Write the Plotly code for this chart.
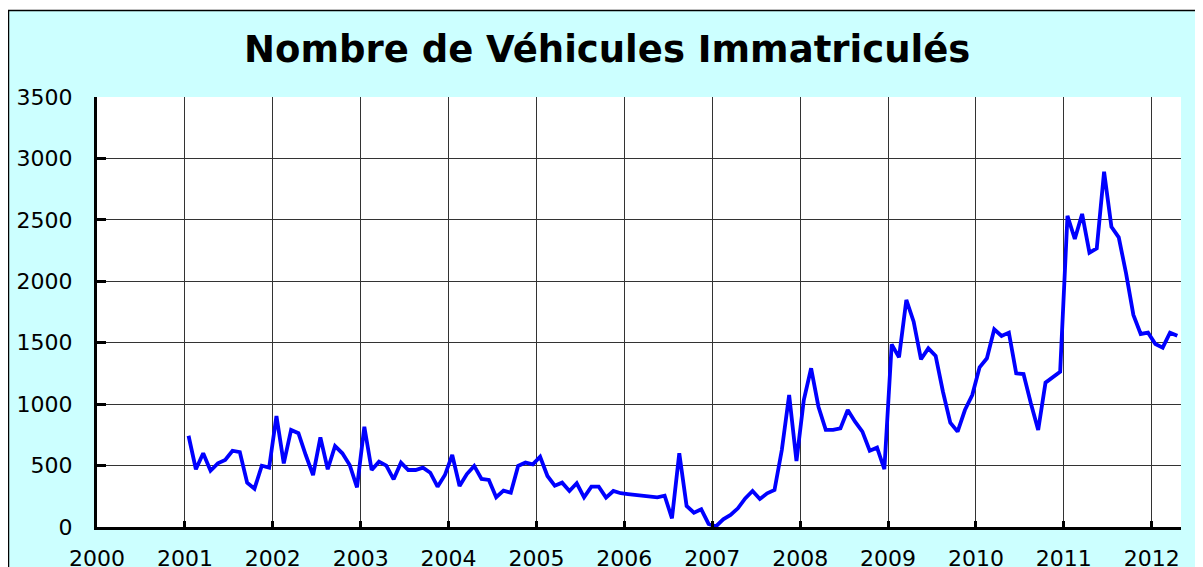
import plotly.graph_objects as go

years = list(range(2001, 2013))
v2001 = [743, 470, 600, 458, 518, 545, 621, 610, 361, 312, 499, 483]
v2002 = [903, 518, 790, 763, 586, 423, 730, 470, 659, 600, 505, 323]
v2003 = [816, 464, 532, 499, 388, 524, 464, 464, 483, 442, 328, 423]
v2004 = [586, 334, 431, 497, 391, 383, 242, 296, 279, 497, 524, 510]
v2005 = [572, 415, 336, 361, 293, 356, 242, 328, 328, 239, 293, 275]
v2006 = [268, 262, 255, 252, 242, 255, 70, 600, 171, 117, 144, 25]
v2007 = [5, 62, 98, 152, 233, 293, 228, 274, 301, 627, 1074, 537]
v2008 = [1034, 1292, 979, 790, 790, 803, 952, 857, 776, 621, 646, 470]
v2009 = [1487, 1381, 1848, 1671, 1365, 1454, 1392, 1101, 849, 776, 952, 1074]
v2010 = [1300, 1373, 1609, 1555, 1582, 1251, 1245, 1007, 790, 1175, 1223, 1264]
v2011 = [2532, 2344, 2548, 2233, 2268, 2892, 2444, 2358, 2065, 1726, 1571, 1582]
v2012 = [1490, 1460, 1582, 1557]

series = [v2001, v2002, v2003, v2004, v2005, v2006, v2007, v2008, v2009, v2010, v2011, v2012]
x = []
y = []
for yr, vals in zip(years, series):
    for m, v in enumerate(vals):
        x.append(yr + (m + 0.5) / 12)
        y.append(v)

title_text = "Nombre de Véhicules Immatriculés"
year_ticks = list(range(2000, 2013))
y_ticks = [0, 500, 1000, 1500, 2000, 2500, 3000, 3500]

# page body has an 8px margin; compensate
OFF = 8
W, H = 1203 - OFF, 567 - OFF
L, R, T, B = 97 - OFF, 1181 - OFF, 97 - OFF, 527 - OFF

fig = go.Figure()
fig.add_trace(go.Scatter(x=x, y=y, mode="lines",
                         line=dict(color="#0000FF", width=3.8),
                         hoverinfo="x+y", showlegend=False))

def px(xp):
    return (xp - OFF - L) / (R - L)

def py(yp):
    return (B - (yp - OFF)) / (B - T)

fig.add_shape(type="rect", xref="paper", yref="paper",
              x0=px(8.5), x1=px(1197), y0=py(600), y1=py(10.5),
              fillcolor="#CCFFFF", line=dict(color="#000000", width=1.5), layer="below")
fig.add_shape(type="rect", xref="paper", yref="paper",
              x0=0, x1=1, y0=0, y1=1,
              fillcolor="#FFFFFF", line=dict(width=0), layer="below")

fig.add_annotation(text="<b>" + title_text + "</b>", xref="paper", yref="paper",
                   x=px(607), y=py(50), xanchor="center", yanchor="middle",
                   showarrow=False, font=dict(family="DejaVu Sans", size=37, color="#000000"))

fig.update_layout(
    width=W, height=H,
    margin=dict(l=L, r=W - R, t=T, b=H - B, pad=0, autoexpand=False),
    paper_bgcolor="#FFFFFF", plot_bgcolor="#FFFFFF",
    xaxis=dict(range=[2000, 2012 + 4 / 12], tickmode="array", tickvals=year_ticks,
               ticktext=[str(t) for t in year_ticks],
               showgrid=True, gridcolor="#333333", gridwidth=1,
               showline=True, linecolor="#000000", linewidth=3,
               ticks="inside", ticklen=6, tickwidth=3, tickcolor="#000000",
               tickfont=dict(family="DejaVu Sans", size=22, color="#000000"),
               ticklabelstandoff=10, zeroline=False, fixedrange=True, automargin=False),
    yaxis=dict(range=[0, 3500], tickmode="array", tickvals=y_ticks,
               ticktext=[str(t) for t in y_ticks],
               showgrid=True, gridcolor="#333333", gridwidth=1,
               showline=True, linecolor="#000000", linewidth=3,
               ticks="inside", ticklen=9, tickwidth=3, tickcolor="#000000",
               tickfont=dict(family="DejaVu Sans", size=22, color="#000000"),
               ticklabelstandoff=17, zeroline=False, fixedrange=True, automargin=False),
)

fig.write_html("out.html")
